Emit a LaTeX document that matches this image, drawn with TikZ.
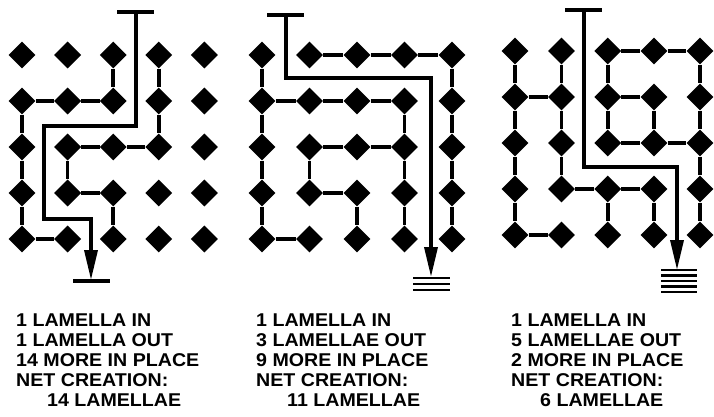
\documentclass[tikz,border=0pt]{standalone}
\usepackage{fontspec}
\setmainfont[FakeStretch=1.06]{Liberation Sans}
\usetikzlibrary{shapes.geometric,arrows.meta}
\begin{document}
\begin{tikzpicture}[x=1pt,y=-1pt,
  dot/.style={diamond,fill=black,minimum size=27pt,inner sep=0pt},
  link/.style={line width=3.5pt},
  route/.style={line width=3.5pt,-{Triangle[width=13pt,length=30pt]}},
  topbar/.style={line width=3.5pt},
  stackbar/.style={line width=2.6pt},
  lbl/.style={anchor=base west,inner sep=0pt,font=\fontsize{18.5}{20}\selectfont\bfseries}]
\useasboundingbox (0,0) rectangle (714,417);
% ---------- diamonds ----------
\foreach \i/\x in {1/22,2/67.6,3/113.2,4/158.8,5/204.4}
  \foreach \j/\y in {1/55,2/101,3/147,4/193,5/239}
    \node[dot] (a\i\j) at (\x,\y) {};
\foreach \i/\x in {1/262,2/309.5,3/357,4/404.5,5/452}
  \foreach \j/\y in {1/55,2/101,3/147,4/193,5/239}
    \node[dot] (b\i\j) at (\x,\y) {};
\foreach \i/\x in {1/515,2/561.5,3/607.75,4/654,5/700}
  \foreach \j/\y in {1/51,2/97,3/143,4/189,5/235}
    \node[dot] (c\i\j) at (\x,\y) {};
% ---------- links, panel 1 ----------
\draw[link] (a31) -- (a32);
\draw[link] (a12) -- (a22) -- (a32);
\draw[link] (a41) -- (a42) -- (a43);
\draw[link] (a12) -- (a13) -- (a14) -- (a15) -- (a25);
\draw[link] (a23) -- (a33) -- (a43);
\draw[link] (a23) -- (a24) -- (a34) -- (a35);
% ---------- links, panel 2 ----------
\draw[link] (b11) -- (b12) -- (b13) -- (b14) -- (b15) -- (b25);
\draw[link] (b21) -- (b31) -- (b41) -- (b51) -- (b52) -- (b53) -- (b54) -- (b55);
\draw[link] (b12) -- (b22) -- (b32) -- (b42) -- (b43) -- (b44) -- (b45);
\draw[link] (b23) -- (b33) -- (b43);
\draw[link] (b23) -- (b24) -- (b34) -- (b35);
% ---------- links, panel 3 ----------
\draw[link] (c11) -- (c12) -- (c13) -- (c14) -- (c15) -- (c25);
\draw[link] (c21) -- (c22);
\draw[link] (c12) -- (c22) -- (c23) -- (c24) -- (c34) -- (c44) -- (c45);
\draw[link] (c34) -- (c35);
\draw[link] (c31) -- (c41) -- (c51) -- (c52) -- (c53) -- (c54) -- (c55);
\draw[link] (c31) -- (c32) -- (c33) -- (c43) -- (c53);
\draw[link] (c32) -- (c42) -- (c43);
% ---------- route, panel 1 ----------
\coordinate (r1bl) at (117,12); \coordinate (r1br) at (154,12);
\coordinate (r1s) at (136,12); \coordinate (r1k1) at (136,126);
\coordinate (r1k2) at (44,126); \coordinate (r1k3) at (44,219);
\coordinate (r1k4) at (91,219); \coordinate (r1e) at (91,280);
\coordinate (r1ol) at (73,281); \coordinate (r1or) at (110,281);
\draw[topbar] (r1bl) -- (r1br);
\draw[route] (r1s) -- (r1k1) -- (r1k2) -- (r1k3) -- (r1k4) -- (r1e);
\draw[topbar] (r1ol) -- (r1or);
% ---------- route, panel 2 ----------
\coordinate (r2bl) at (267,15); \coordinate (r2br) at (304,15);
\coordinate (r2s) at (286,15); \coordinate (r2k1) at (286,78);
\coordinate (r2k2) at (431,78); \coordinate (r2e) at (431,277);
\draw[topbar] (r2bl) -- (r2br);
\draw[route] (r2s) -- (r2k1) -- (r2k2) -- (r2e);
\foreach \y [count=\k] in {278,284,290}{
  \coordinate (r2ol\k) at (413,\y); \coordinate (r2or\k) at (450,\y);
  \draw[stackbar] (r2ol\k) -- (r2or\k);}
% ---------- route, panel 3 ----------
\coordinate (r3bl) at (565,10); \coordinate (r3br) at (602,10);
\coordinate (r3s) at (584,10); \coordinate (r3k1) at (584,167);
\coordinate (r3k2) at (677,167); \coordinate (r3e) at (677,270);
\draw[topbar] (r3bl) -- (r3br);
\draw[route] (r3s) -- (r3k1) -- (r3k2) -- (r3e);
\foreach \y [count=\k] in {270,275.5,281,286.5,292}{
  \coordinate (r3ol\k) at (661,\y); \coordinate (r3or\k) at (697,\y);
  \draw[stackbar] (r3ol\k) -- (r3or\k);}
% ---------- texts ----------
\node[lbl] (t11) at (16,326) {1 LAMELLA IN};
\node[lbl] (t12) at (16,346) {1 LAMELLA OUT};
\node[lbl] (t13) at (16,366) {14 MORE IN PLACE};
\node[lbl] (t14) at (16,386) {NET CREATION:};
\node[lbl] (t15) at (47,406) {14 LAMELLAE};
\node[lbl] (t21) at (256,326) {1 LAMELLA IN};
\node[lbl] (t22) at (256,346) {3 LAMELLAE OUT};
\node[lbl] (t23) at (256,366) {9 MORE IN PLACE};
\node[lbl] (t24) at (256,386) {NET CREATION:};
\node[lbl] (t25) at (287,406) {11 LAMELLAE};
\node[lbl] (t31) at (511,326) {1 LAMELLA IN};
\node[lbl] (t32) at (511,346) {5 LAMELLAE OUT};
\node[lbl] (t33) at (511,366) {2 MORE IN PLACE};
\node[lbl] (t34) at (511,386) {NET CREATION:};
\node[lbl] (t35) at (540,406) {6 LAMELLAE};
\end{tikzpicture}
\end{document}
